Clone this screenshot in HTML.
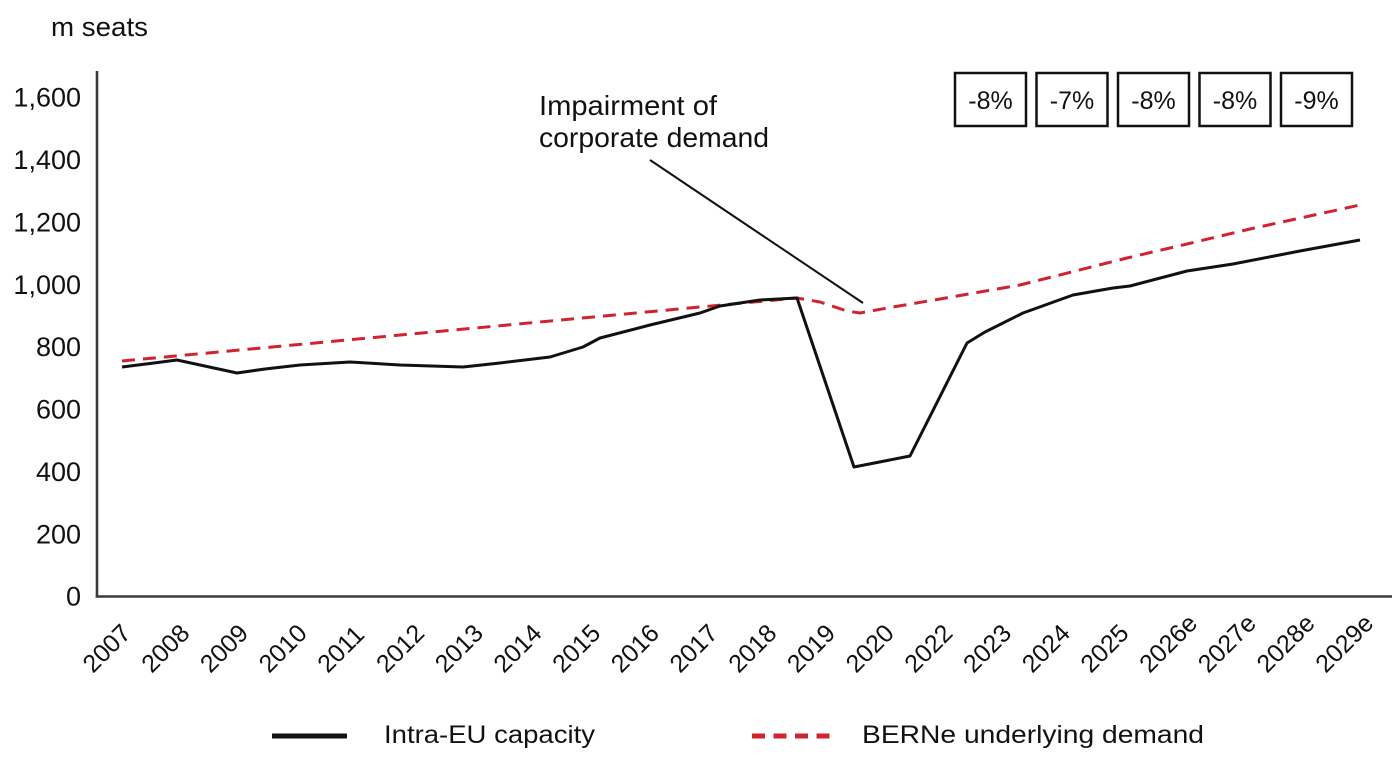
<!DOCTYPE html>
<html>
<head>
<meta charset="utf-8">
<style>
  html, body { margin:0; padding:0; background:#fff; }
  svg { display:block; }
  text { font-family: "Liberation Sans", "DejaVu Sans", sans-serif; fill:#111; }
</style>
</head>
<body>
<svg width="1400" height="764" viewBox="0 0 1400 764" xmlns="http://www.w3.org/2000/svg">
  <rect width="1400" height="764" fill="#fff"/>

  <!-- unit label -->
  <text x="51" y="36" font-size="27" textLength="97" lengthAdjust="spacingAndGlyphs">m seats</text>

  <!-- y tick labels -->
  <g font-size="27" text-anchor="end">
    <text x="81" y="106.7">1,600</text>
    <text x="81" y="169">1,400</text>
    <text x="81" y="231.4">1,200</text>
    <text x="81" y="293.8">1,000</text>
    <text x="81" y="356.2">800</text>
    <text x="81" y="418.6">600</text>
    <text x="81" y="480.9">400</text>
    <text x="81" y="543.3">200</text>
    <text x="81" y="605.7">0</text>
  </g>

  <!-- axes -->
  <line x1="97" y1="71" x2="97" y2="597.5" stroke="#3a3a3a" stroke-width="2.6"/>
  <line x1="95.7" y1="596.5" x2="1392" y2="596.5" stroke="#3a3a3a" stroke-width="2.6"/>

  <!-- x labels -->
  <g font-size="25">
    <text transform="translate(93,674) rotate(-45)">2007</text>
    <text transform="translate(151.7,674) rotate(-45)">2008</text>
    <text transform="translate(210.4,674) rotate(-45)">2009</text>
    <text transform="translate(269.1,674) rotate(-45)">2010</text>
    <text transform="translate(327.8,674) rotate(-45)">2011</text>
    <text transform="translate(386.5,674) rotate(-45)">2012</text>
    <text transform="translate(445.2,674) rotate(-45)">2013</text>
    <text transform="translate(503.9,674) rotate(-45)">2014</text>
    <text transform="translate(562.6,674) rotate(-45)">2015</text>
    <text transform="translate(621.3,674) rotate(-45)">2016</text>
    <text transform="translate(680,674) rotate(-45)">2017</text>
    <text transform="translate(738.7,674) rotate(-45)">2018</text>
    <text transform="translate(797.4,674) rotate(-45)">2019</text>
    <text transform="translate(856.1,674) rotate(-45)">2020</text>
    <text transform="translate(914.8,674) rotate(-45)">2022</text>
    <text transform="translate(973.5,674) rotate(-45)">2023</text>
    <text transform="translate(1032.2,674) rotate(-45)">2024</text>
    <text transform="translate(1090.9,674) rotate(-45)">2025</text>
    <text transform="translate(1149.6,674) rotate(-45)">2026e</text>
    <text transform="translate(1208.3,674) rotate(-45)">2027e</text>
    <text transform="translate(1267,674) rotate(-45)">2028e</text>
    <text transform="translate(1325.7,674) rotate(-45)">2029e</text>
  </g>

  <!-- BERNe underlying demand (red dashed) -->
  <polyline fill="none" stroke="#d0232f" stroke-width="3" stroke-dasharray="13 8" stroke-linejoin="round"
    points="122,361 300,344.4 500,325.7 700,307 797,298 820,302 847,311 860,313 893,307 940,299 1020,285 1127,258 1187,244 1250,229 1360,205"/>

  <!-- Intra-EU capacity (black) -->
  <polyline fill="none" stroke="#111" stroke-width="3" stroke-linejoin="round"
    points="122,367 150,363.5 177,360 237,373 265,369 300,365 350,362 400,365 463,367 500,363 550,357 583,347 600,338 650,325 700,313 720,306 760,300 797,298 854,467 910,456 967,343 985,332 1023,313 1073,295 1113,288 1130,286 1187,271 1233,264 1300,251 1360,240"/>

  <!-- annotation -->
  <line x1="650" y1="160" x2="863" y2="303" stroke="#111" stroke-width="2"/>
  <text x="539" y="115" font-size="28" textLength="178" lengthAdjust="spacingAndGlyphs">Impairment of</text>
  <text x="539" y="147" font-size="28" textLength="230" lengthAdjust="spacingAndGlyphs">corporate demand</text>

  <!-- percentage boxes -->
  <g fill="none" stroke="#111" stroke-width="2.5">
    <rect x="955" y="73" width="71" height="53"/>
    <rect x="1036.5" y="73" width="71" height="53"/>
    <rect x="1118" y="73" width="71" height="53"/>
    <rect x="1199.5" y="73" width="71" height="53"/>
    <rect x="1281" y="73" width="71" height="53"/>
  </g>
  <g font-size="25" text-anchor="middle">
    <text x="990.5" y="109">-8%</text>
    <text x="1072" y="109">-7%</text>
    <text x="1153.5" y="109">-8%</text>
    <text x="1235" y="109">-8%</text>
    <text x="1316.5" y="109">-9%</text>
  </g>

  <!-- legend -->
  <line x1="272" y1="736" x2="347" y2="736" stroke="#111" stroke-width="5"/>
  <text x="384" y="743" font-size="25" textLength="211" lengthAdjust="spacingAndGlyphs">Intra-EU capacity</text>
  <line x1="752" y1="736" x2="830" y2="736" stroke="#d0232f" stroke-width="5" stroke-dasharray="13 8.5"/>
  <text x="862" y="743" font-size="25" textLength="342" lengthAdjust="spacingAndGlyphs">BERNe underlying demand</text>
</svg>
</body>
</html>
